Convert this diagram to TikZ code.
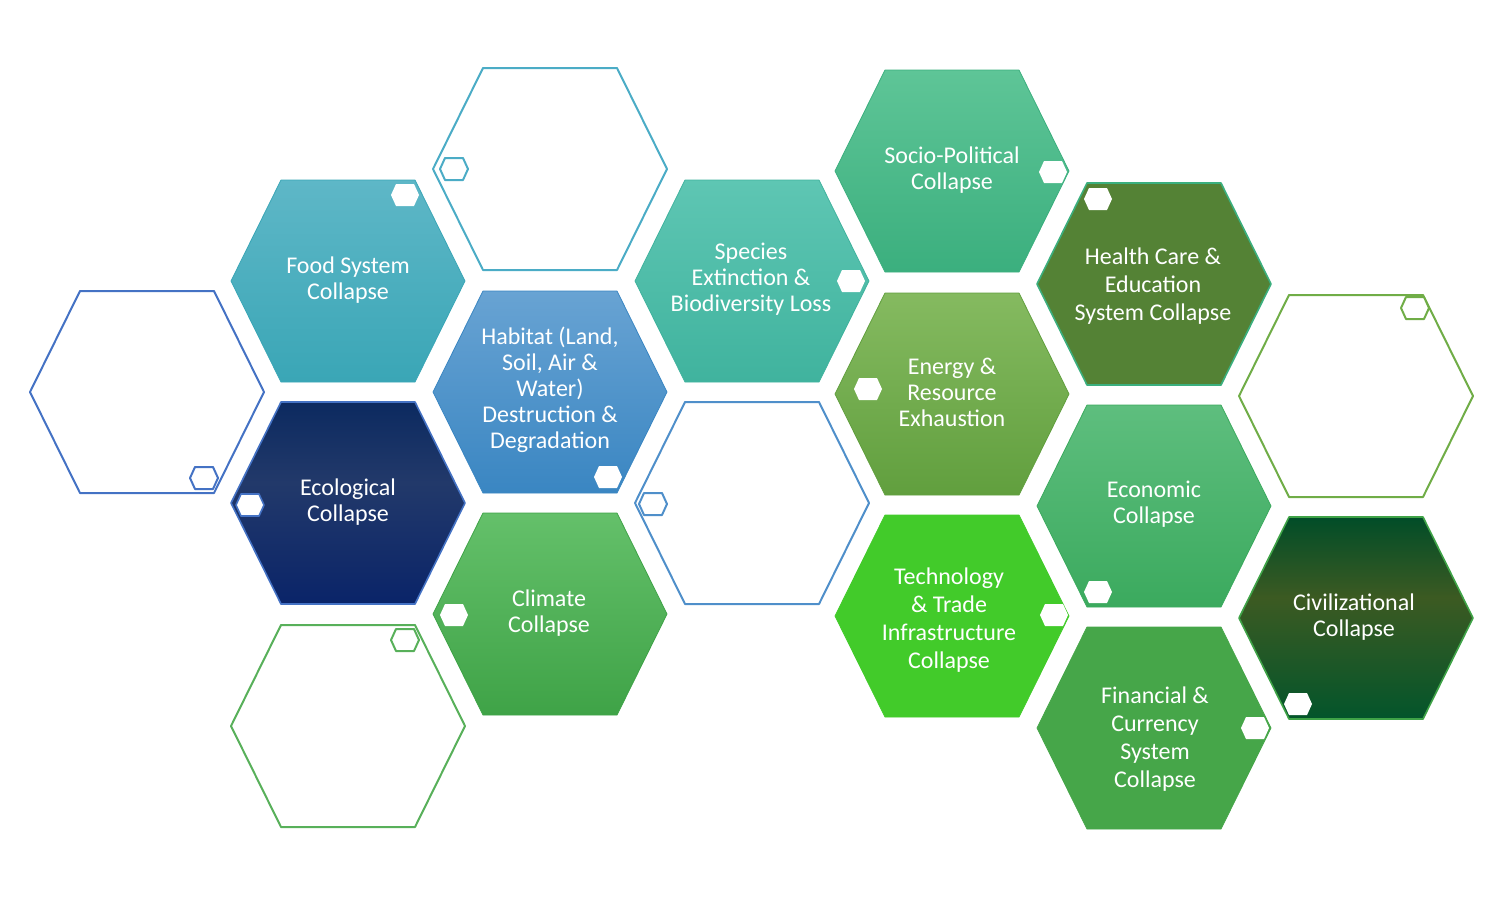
\documentclass[tikz,border=0pt]{standalone}
\usepackage{fontspec}
\setmainfont{Carlito}
% cell colours
\definecolor{foodT}{HTML}{5EB7C7}
\definecolor{foodB}{HTML}{3AA6B6}
\definecolor{habT}{HTML}{68A3D3}
\definecolor{habB}{HTML}{3A86C2}
\definecolor{ecoT}{HTML}{0C2A60}
\definecolor{ecoM}{HTML}{22396A}
\definecolor{ecoB}{HTML}{0A2469}
\definecolor{specT}{HTML}{5EC6B3}
\definecolor{specB}{HTML}{40B39E}
\definecolor{climT}{HTML}{64C06A}
\definecolor{climB}{HTML}{3FA347}
\definecolor{socT}{HTML}{5EC597}
\definecolor{socB}{HTML}{3BAF7E}
\definecolor{enT}{HTML}{85BA60}
\definecolor{enB}{HTML}{619F3E}
\definecolor{techG}{HTML}{42CB2A}
\definecolor{healG}{HTML}{548235}
\definecolor{econT}{HTML}{5EBE7E}
\definecolor{econB}{HTML}{3BAA5E}
\definecolor{finG}{HTML}{46A649}
\definecolor{civT}{HTML}{014D28}
\definecolor{civM}{HTML}{3C5A22}
\definecolor{civB}{HTML}{03552B}
% outline colours
\definecolor{lineBlue}{HTML}{4472C4}
\definecolor{lineTeal}{HTML}{4BACC6}
\definecolor{lineGreen}{HTML}{58B05A}
\definecolor{lineSky}{HTML}{4F8FCA}
\definecolor{lineOlive}{HTML}{70AD47}
% three-stop fills, bottom to top
\pgfdeclareverticalshading{ecoshade}{100bp}{color(0bp)=(ecoB); color(25bp)=(ecoB); color(55bp)=(ecoM); color(75bp)=(ecoT); color(100bp)=(ecoT)}
\pgfdeclareverticalshading{civshade}{100bp}{color(0bp)=(civB); color(25bp)=(civB); color(55bp)=(civM); color(75bp)=(civT); color(100bp)=(civT)}

\begin{document}
\begin{tikzpicture}[x=0.5pt, y=-0.5pt, line join=round,
	cell/.pic={\path[pic actions] (-117,0) -- (-67,-101) -- (67,-101) -- (117,0) -- (67,101) -- (-67,101) -- cycle;},
	knob/.pic={\path[pic actions] (-14,0) -- (-9,-11) -- (9,-11) -- (14,0) -- (9,11) -- (-9,11) -- cycle;},
	hollow/.style={draw=#1, line width=1pt, fill=white},
	txt/.style={text=white, align=center, font=\fontsize{12}{13}\selectfont},
	bigtxt/.style={txt, font=\fontsize{12}{14}\selectfont}]
\useasboundingbox (0,0) rectangle (1510,896);

%========================
% empty cells
%========================
\pic[hollow=lineBlue] at (147,392) {cell};
\pic[hollow=lineTeal] at (550,169) {cell};
\pic[hollow=lineGreen] at (348,726) {cell};
\pic[hollow=lineSky] at (752,503) {cell};
\pic[hollow=lineOlive] at (1356,396) {cell};

% their small corner marks
\pic[hollow=lineBlue] at (204,478) {knob};
\pic[hollow=lineTeal] at (454,169) {knob};
\pic[hollow=lineGreen] at (405,640) {knob};
\pic[hollow=lineSky] at (653,504) {knob};
\pic[hollow=lineOlive] at (1415,308) {knob};

%========================
% filled cells
%========================
\pic[top color=foodT, bottom color=foodB, draw=foodB] at (348,281) {cell};
\pic[shading=ecoshade, draw=lineBlue, line width=0.8pt] at (348,503) {cell};
\pic[top color=habT, bottom color=habB, draw=habB] at (550,392) {cell};
\pic[top color=climT, bottom color=climB, draw=climB] at (550,614) {cell};
\pic[top color=specT, bottom color=specB, draw=specB] at (752,281) {cell};
\pic[top color=socT, bottom color=socB, draw=socB] at (952,171) {cell};
\pic[top color=enT, bottom color=enB, draw=enB] at (952,394) {cell};
\pic[fill=techG, draw=techG] at (952,616) {cell};
\pic[fill=healG, draw=socB, line width=0.8pt] at (1154,284) {cell};
\pic[top color=econT, bottom color=econB, draw=econB] at (1154,506) {cell};
\pic[fill=finG, draw=finG] at (1154,728) {cell};
\pic[shading=civshade, draw=climB, line width=0.8pt] at (1356,618) {cell};

% white corner marks
\pic[fill=white] at (405,195) {knob};
\pic[fill=white, draw=lineBlue, line width=0.8pt] at (250,505) {knob};
\pic[fill=white] at (608,477) {knob};
\pic[fill=white] at (454,615) {knob};
\pic[fill=white] at (851,281) {knob};
\pic[fill=white] at (1053,172) {knob};
\pic[fill=white] at (868,389) {knob};
\pic[fill=white] at (1054,615) {knob};
\pic[fill=white] at (1098,199) {knob};
\pic[fill=white] at (1098,592) {knob};
\pic[fill=white] at (1255,728) {knob};
\pic[fill=white] at (1298,704) {knob};

%========================
% labels
%========================
\node[txt] (food) at (348,280) {Food System\\Collapse};
\node[txt] (ecological) at (348,502) {Ecological\\Collapse};
\node[txt] (habitat) at (550,390) {Habitat (Land,\\Soil, Air \&\\Water)\\Destruction \&\\Degradation};
\node[txt] (climate) at (549,613) {Climate\\Collapse};
\node[txt] (species) at (751,279) {Species\\Extinction \&\\Biodiversity Loss};
\node[txt] (socio) at (952,170) {Socio-Political\\Collapse};
\node[txt] (energy) at (952,392) {Energy \&\\Resource\\Exhaustion};
\node[bigtxt] (tech) at (949,620) {Technology\\\& Trade\\Infrastructure\\Collapse};
\node[bigtxt] (health) at (1153,286) {Health Care \&\\Education\\System Collapse};
\node[txt] (economic) at (1154,504) {Economic\\Collapse};
\node[bigtxt] (financial) at (1155,739) {Financial \&\\Currency\\System\\Collapse};
\node[txt] (civil) at (1354,617) {Civilizational\\Collapse};
\end{tikzpicture}
\end{document}
